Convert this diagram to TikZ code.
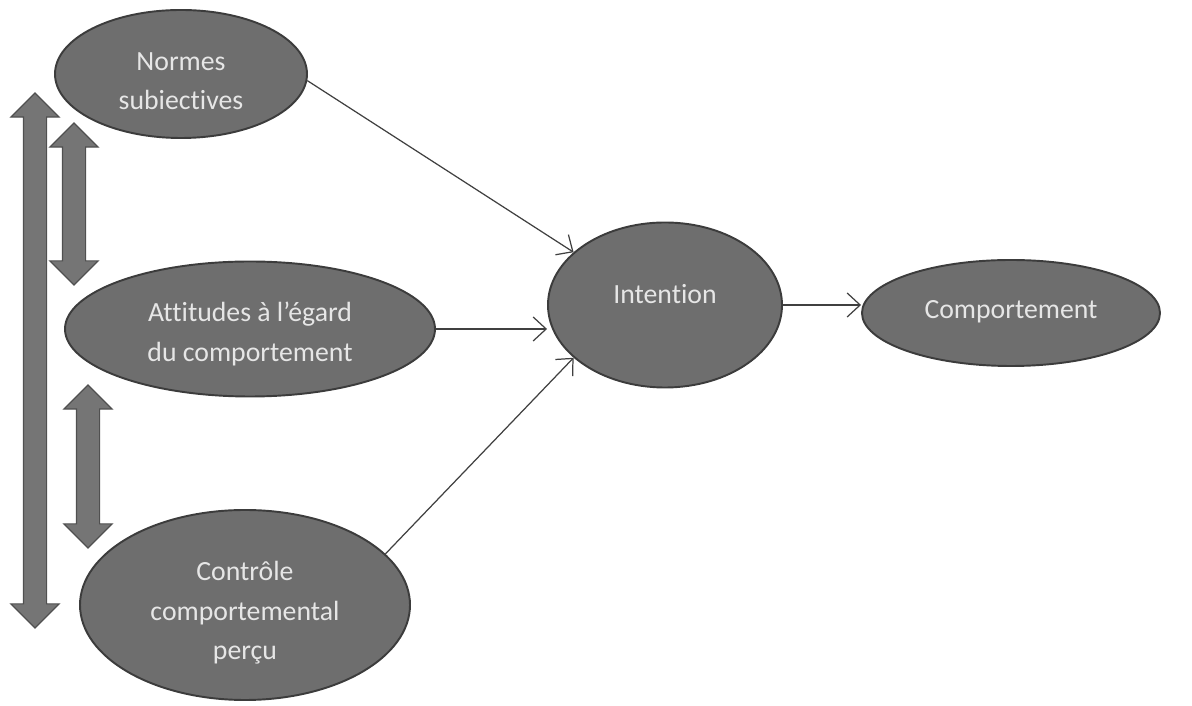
\documentclass[tikz,border=0pt]{standalone}
\usepackage{fontspec}
\setmainfont[Ligatures=NoCommon]{Carlito}
\usetikzlibrary{positioning,shapes.geometric,shapes.arrows,arrows.meta}
\definecolor{ovalfill}{HTML}{6E6E6E}
\definecolor{ovalline}{HTML}{3C3C3C}
\definecolor{ovaltext}{HTML}{E6E6E6}
\definecolor{linkgray}{HTML}{404040}

\begin{document}
\begin{tikzpicture}[
  oval/.style={ellipse, draw=ovalline, line width=1.1pt, fill=ovalfill,
               inner sep=0pt},
  ovallabel/.style={text=ovaltext, align=center,
               font=\fontsize{15.8}{22.5}\selectfont},
  dblarrow/.style={double arrow, rotate=90, draw=ovalline!90, line width=0.7pt,
               fill=ovalfill!95, double arrow head extend=0.25cm,
               inner xsep=0pt, inner ysep=0.22cm, minimum width=0.94cm},
  link/.style={line width=0.7pt, linkgray,
               -{Straight Barb[length=0.26cm,width=0.48cm]}},
]
\useasboundingbox (0,0) rectangle (23.84,14.12);

% the three determinants
\node[oval, minimum width=5.04cm, minimum height=2.56cm] (nor) at (3.62,12.64) {};
\node[ovallabel] (norlbl) at ([yshift=-0.14cm]nor.center) {Normes\\subiectives};
\node[oval, minimum width=7.4cm, minimum height=2.7cm] (att) at (5.00,7.54) {};
\node[ovallabel] (attlbl) at ([yshift=-0.1cm]att.center)
  {Attitudes à l’égard\\du comportement};
\node[oval, minimum width=6.6cm, minimum height=3.8cm] (ctl) at (4.90,2.02) {};
\node[ovallabel] (ctllbl) at ([yshift=-0.16cm]ctl.center)
  {Contrôle\\comportemental\\perçu};

\node[oval, minimum width=4.68cm, minimum height=3.3cm] (int) at (13.30,8.02) {};
\node[ovallabel] (intlbl) at ([yshift=0.22cm]int.center) {Intention};
\node[oval, minimum width=5.96cm, minimum height=2.12cm] (cmp) at (20.22,7.86) {};
\node[ovallabel] (cmplbl) at ([yshift=0.02cm]cmp.center) {Comportement};

% correlations between determinants
\node[dblarrow, minimum height=10.7cm] (corall) at (0.70,6.91) {};
\node[dblarrow, minimum height=3.24cm] (cornor) at (1.48,10.04) {};
\node[dblarrow, minimum height=3.26cm] (corctl) at (1.76,4.79) {};

\draw[link] (nor.-3) -- (int.150);
\draw[link] (att.east) -- (att.east -| int.west);
\draw[link] (ctl.20) -- (int.210);
\draw[link] (int.east) -- (int.east -| cmp.west);

\end{tikzpicture}
\end{document}
